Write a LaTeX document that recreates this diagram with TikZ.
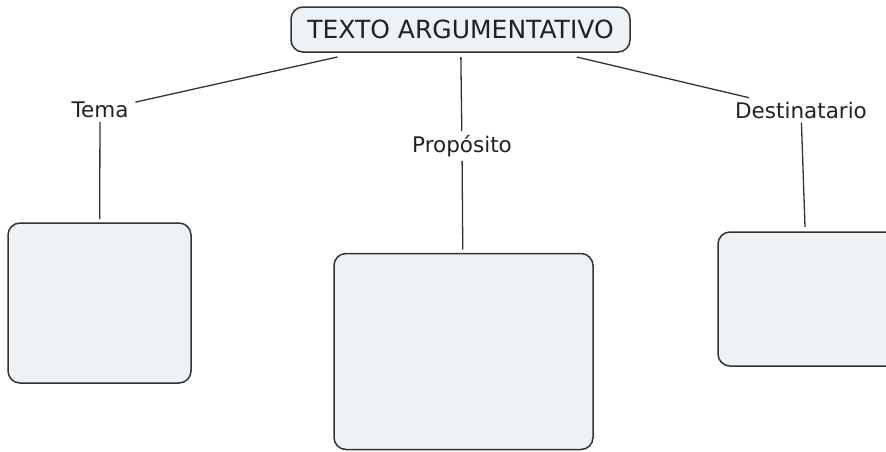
\documentclass[tikz,border=0pt]{standalone}
\usepackage{fontspec}
\setmainfont{DejaVu Sans}
\usepackage{xcolor}
\usepackage{tikz}
\usetikzlibrary{calc}
\definecolor{ink}{HTML}{222222}
\definecolor{edge}{HTML}{333333}
\definecolor{paper}{HTML}{ECF2F5}
\tikzset{
  conceptBox/.style={draw=edge, fill=paper, line width=1.5pt, rounded corners=12pt, inner sep=0pt, outer sep=4pt},
  titleBox/.style={conceptBox, text=ink, font=\fontsize{25}{29}\selectfont, outer sep=5pt},
  linkLabel/.style={text=ink, font=\fontsize{21.5}{25}\selectfont, inner xsep=4pt, inner ysep=1pt, outer sep=3pt},
  linkLine/.style={draw=edge, line width=1.3pt}
}

\begin{document}
\begin{tikzpicture}[x=1pt,y=-1pt]
  \useasboundingbox (0,0) rectangle (886,451);
  \clip (0,0) rectangle (886,451);

  \node[titleBox, minimum width=339pt, minimum height=45pt] (titulo) at (460.5,29.5) {TEXTO ARGUMENTATIVO};

  \node[linkLabel] (tema) at (100,110) {Tema};
  \node[linkLabel] (proposito) at (462,146) {Propósito};
  \node[linkLabel] (destinatario) at (801,110) {Destinatario};

  \node[conceptBox, minimum width=220pt, minimum height=134pt] (cajaDestinatario) at (828,299) {};
  \node[conceptBox, minimum width=183pt, minimum height=160pt] (cajaTema) at (99.5,303) {};
  \node[conceptBox, minimum width=259pt, minimum height=196pt] (cajaProposito) at (463.5,351.5) {};
  \coordinate (llegada) at ($(cajaDestinatario.north west)+(91,-1)$);

  \draw[linkLine] (titulo) -- (tema);
  \draw[linkLine] (titulo) -- (proposito);
  \draw[linkLine] (titulo) -- (destinatario);

  \draw[linkLine] (tema) -- (cajaTema);
  \draw[linkLine] (proposito) -- (cajaProposito);
  \draw[linkLine] (destinatario) -- (llegada);
\end{tikzpicture}
\end{document}
